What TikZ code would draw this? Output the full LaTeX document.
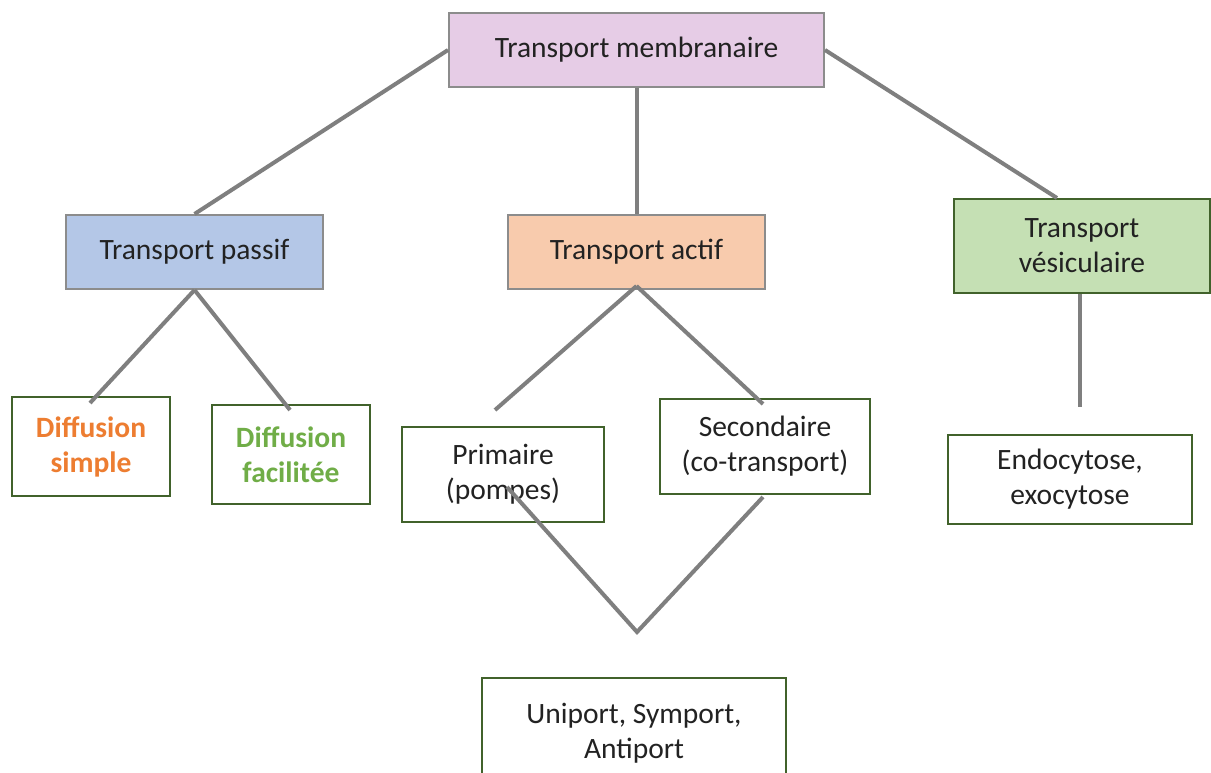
\documentclass[tikz,border=0pt]{standalone}
\usepackage{fontspec}
\setmainfont{Carlito}
\definecolor{lnk}{HTML}{7F7F7F}
\definecolor{pinkf}{HTML}{E6CCE6}
\definecolor{bluef}{HTML}{B4C7E7}
\definecolor{orangef}{HTML}{F8CBAD}
\definecolor{greenf}{HTML}{C5E0B4}
\definecolor{dgreen}{HTML}{41622B}
\definecolor{txt}{HTML}{222222}
\definecolor{orangetxt}{HTML}{ED7D31}
\definecolor{greentxt}{HTML}{70AD47}
\begin{document}
\begin{tikzpicture}[x=1pt,y=-1pt,
  box/.style={rectangle, draw=dgreen, line width=2pt, fill=white, align=center, inner sep=0pt,
    font=\fontsize{29.5}{35}\selectfont, text=txt},
  greybox/.style={box, draw=lnk!90},
  link/.style={draw=lnk, line width=4pt}]
\useasboundingbox (0,0) rectangle (1211,772);
% nodes
\node[greybox, fill=pinkf, minimum width=375pt, minimum height=74pt] (top) at (636.5,50) {Transport membranaire};
\node[greybox, fill=bluef, minimum width=257pt, minimum height=74pt] (passif) at (194.5,252) {Transport passif};
\node[greybox, fill=orangef, minimum width=257pt, minimum height=74pt] (actif) at (636.5,252) {Transport actif};
\node[box, fill=greenf, minimum width=256pt, minimum height=94pt] (vesic) at (1082,246) {Transport\\v\'esiculaire};
\node[box, minimum width=158pt, minimum height=99pt, font=\fontsize{29.5}{35}\selectfont\bfseries, text=orangetxt] (simple) at (91,446.5) {Diffusion\\simple};
\node[box, minimum width=158pt, minimum height=99pt, font=\fontsize{29.5}{35}\selectfont\bfseries, text=greentxt] (facil) at (291,454.5) {Diffusion\\facilit\'ee};
\node[box, minimum width=202pt, minimum height=95pt] (prim) at (503,474.5) {Primaire\\(pompes)};
\node[box, minimum width=210pt, minimum height=95pt] (second) at (765,446.5) {Secondaire\\(co-transport)};
\node[box, minimum width=244pt, minimum height=89pt] (endo) at (1070,479.5) {Endocytose,\\exocytose};
\node[box, minimum width=304pt, minimum height=110pt] (uni) at (634,733) {Uniport, Symport,\\Antiport};
% free ends
\coordinate (pL) at (90,403);
\coordinate (pR) at (290,410);
\coordinate (aL) at (495,410);
\coordinate (aR) at (763,404);
\coordinate (pin) at (507,487);
\coordinate (vtip) at (637,632);
\coordinate (sin) at (763,497);
\coordinate (vend) at (1080,407);
% links
\draw[link] (top.west) -- (passif.north);
\draw[link] (top.south) -- (actif.north);
\draw[link] (top.east) -- ([xshift=-25pt]vesic.north);
\draw[link] (passif.south) -- (pL);
\draw[link] (passif.south) -- (pR);
\draw[link] ([yshift=4pt]actif.south) -- (aL);
\draw[link] ([yshift=4pt]actif.south) -- (aR);
\draw[link] (pin) -- (vtip) -- (sin);
\draw[link, line width=3.5pt] ([xshift=-2pt]vesic.south) -- (vend);
\end{tikzpicture}
\end{document}
